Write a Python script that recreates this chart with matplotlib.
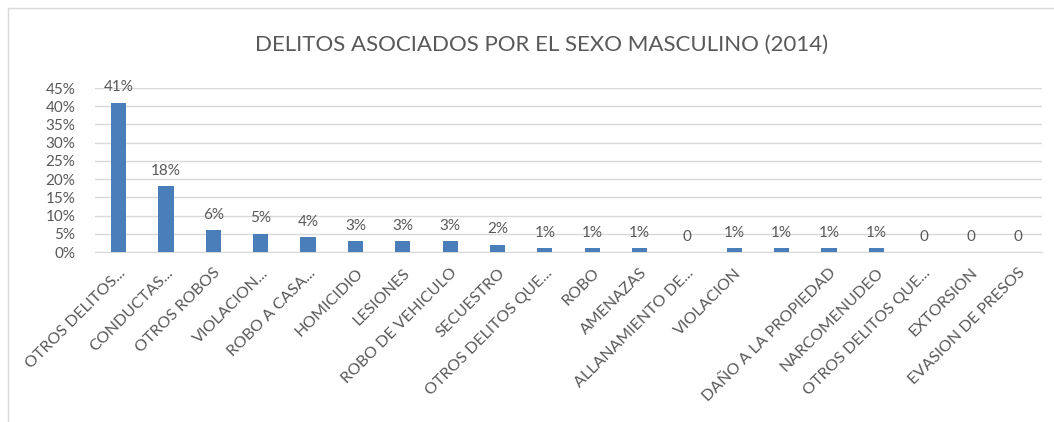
import matplotlib
matplotlib.use("Agg")
import matplotlib.pyplot as plt
from matplotlib.lines import Line2D

# 20 columns; Excel dropped the label of the 15th one
categories = [
    "OTROS DELITOS...", "CONDUCTAS...", "OTROS ROBOS", "VIOLACION...",
    "ROBO A CASA...", "HOMICIDIO", "LESIONES", "ROBO DE VEHICULO",
    "SECUESTRO", "OTROS DELITOS QUE...", "ROBO", "AMENAZAS",
    "ALLANAMIENTO DE...", "VIOLACION", "", "DAÑO A LA PROPIEDAD",
    "NARCOMENUDEO", "OTROS DELITOS QUE...", "EXTORSION", "EVASION DE PRESOS",
]
values = [41, 18, 6, 5, 4, 3, 3, 3, 2, 1, 1, 1, 0, 1, 1, 1, 1, 0, 0, 0]
yticks = [0, 5, 10, 15, 20, 25, 30, 35, 40, 45]

TEXT = "#595959"
BAR = "#4a7ebb"
GRID = "#d9d9d9"

plt.rcParams["font.family"] = ["Lato", "DejaVu Sans"]

fig = plt.figure(figsize=(10.54, 4.22), dpi=100)
ax = fig.add_axes([95 / 1054, 1 - 252 / 422, (1042 - 95) / 1054, (252 - 88) / 422])

x = list(range(len(categories)))
ax.bar(x, values, width=0.32, color=BAR, zorder=3)

for xi, v in zip(x, values):
    lbl = f"{v}%" if v > 0 else "0"
    ax.annotate(lbl, (xi, v), xytext=(0, 6), textcoords="offset points",
                ha="center", va="bottom", fontsize=11, color=TEXT)

ax.set_xlim(-0.5, len(categories) - 0.5)
ax.set_ylim(0, 45)
ax.set_yticks(yticks)
ax.set_yticklabels([f"{t}%" for t in yticks])
ax.set_xticks(x)
ax.set_xticklabels(categories, rotation=45, ha="right", rotation_mode="anchor")
ax.tick_params(axis="both", length=0, colors=TEXT, labelsize=11)
ax.tick_params(axis="y", pad=14)
ax.tick_params(axis="x", pad=10, labelsize=11.5)
ax.grid(axis="y", color=GRID, linewidth=1, zorder=0)
for s in ["top", "right", "left"]:
    ax.spines[s].set_visible(False)
ax.spines["bottom"].set_color(GRID)

fig.text(542 / 1054, 1 - 45 / 422, "DELITOS ASOCIADOS POR EL SEXO MASCULINO (2014)",
         ha="center", va="center", fontsize=16, color=TEXT)

# chart frame (top and left edges visible in the crop)
fig.add_artist(Line2D([8 / 1054, 1], [1 - 8 / 422] * 2, color=GRID, lw=1))
fig.add_artist(Line2D([8 / 1054] * 2, [0, 1 - 8 / 422], color=GRID, lw=1))

fig.savefig("out.png", dpi=100)
